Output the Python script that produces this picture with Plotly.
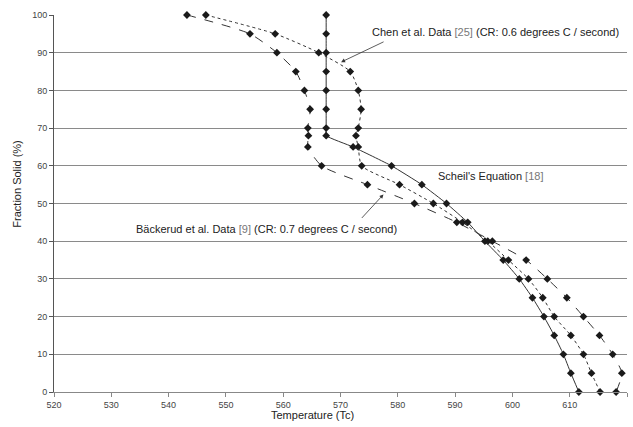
import plotly.graph_objects as go

# Fraction solid (%) levels for all three series
fraction = [100, 95, 90, 85, 80, 75, 70, 68, 65, 60, 55, 50, 45, 40, 35, 30, 25, 20, 15, 10, 5, 0]

# Scheil's Equation [18]
temp_scheil = [567.5, 567.5, 567.5, 567.5, 567.5, 567.5, 567.5, 567.5, 572.2, 578.9, 584.2,
               588.5, 592.2, 595.2, 598.4, 601.2, 603.5, 605.5, 607.3, 608.9, 610.2, 611.6]
# Chen et al. Data [25]
temp_chen = [546.5, 558.6, 566.2, 571.7, 573.1, 573.6, 573.1, 572.7, 573.1, 573.7, 580.3,
             586.2, 591.3, 595.7, 599.3, 602.8, 605.3, 607.3, 610.2, 612.4, 613.8, 615.3]
# Bäckerud et al. Data [9]
temp_back = [543.2, 554.2, 558.9, 562.2, 563.7, 564.7, 564.3, 564.4, 564.3, 566.7, 574.7,
             582.9, 590.3, 596.5, 602.4, 606.1, 609.5, 612.4, 615.2, 617.5, 619.1, 618.1]

x_ticks = [520, 530, 540, 550, 560, 570, 580, 590, 600, 610, 620]
y_ticks = [0, 10, 20, 30, 40, 50, 60, 70, 80, 90, 100]

FONT = "Liberation Sans, Arial, sans-serif"
mk = dict(symbol="diamond", size=6, color="#1a1a1a")

fig = go.Figure()
fig.add_trace(go.Scatter(x=temp_back, y=fraction, mode="lines+markers", cliponaxis=False,
                         line=dict(color="#333333", width=1, dash="dash", shape="spline", smoothing=0.6),
                         marker=mk, showlegend=False))
fig.add_trace(go.Scatter(x=temp_chen, y=fraction, mode="lines+markers", cliponaxis=False,
                         line=dict(color="#333333", width=1, dash="dot", shape="spline", smoothing=0.6),
                         marker=mk, showlegend=False))
fig.add_trace(go.Scatter(x=temp_scheil, y=fraction, mode="lines+markers", cliponaxis=False,
                         line=dict(color="#333333", width=1, shape="spline", smoothing=0.4),
                         marker=mk, showlegend=False))

anns = [
    dict(x=575.1, y=95.5, xref="x", yref="y", xanchor="left", yanchor="middle", showarrow=False,
         text='Chen et al. Data <span style="color:#777">[25]</span> (CR: 0.6 degrees C / second)'),
    dict(x=570.1, y=87.5, xref="x", yref="y", text="", showarrow=True, ax=44, ay=-21,
         arrowhead=2, arrowsize=1, arrowwidth=0.8, arrowcolor="#333"),
    dict(x=586.7, y=57.3, xref="x", yref="y", xanchor="left", yanchor="middle", showarrow=False,
         text='Scheil\'s Equation <span style="color:#777">[18]</span>'),
    dict(x=580.2, y=43.2, xref="x", yref="y", xanchor="right", yanchor="middle", showarrow=False,
         text='Bäckerud et al. Data <span style="color:#777">[9]</span> (CR: 0.7 degrees C / second)'),
    dict(x=577.5, y=52.4, xref="x", yref="y", text="", showarrow=True, ax=-23, ay=25,
         arrowhead=2, arrowsize=1, arrowwidth=0.8, arrowcolor="#333"),
    dict(x=0.452, y=0, xref="paper", yref="paper", yshift=-23, yanchor="middle", showarrow=False,
         text="Temperature (Tc)", font=dict(size=11, color="#222")),
    dict(x=0, y=0.55, xref="paper", yref="paper", xshift=-37, xanchor="center", yanchor="middle",
         showarrow=False, textangle=-90, text="Fraction Solid (%)", font=dict(size=11, color="#222")),
]
for a in anns:
    a.setdefault("font", dict(size=11, color="#222"))

fig.update_layout(
    width=633, height=427,
    margin=dict(l=54, r=6, t=15, b=35),
    paper_bgcolor="white", plot_bgcolor="white",
    font=dict(family=FONT, size=11, color="#222"),
    annotations=anns,
)
fig.update_xaxes(range=[520, 620], tickvals=x_ticks, showgrid=False, zeroline=False,
                 showline=True, linecolor="#888", linewidth=1,
                 ticks="outside", ticklen=4, tickcolor="#888",
                 tickfont=dict(size=9, color="#444"))
fig.update_yaxes(range=[0, 100], tickvals=y_ticks, showgrid=True, gridcolor="#8a8a8a", gridwidth=1,
                 zeroline=False, showline=True, linecolor="#555", linewidth=1,
                 ticks="outside", ticklen=4, tickcolor="#555",
                 tickfont=dict(size=9, color="#444"))

fig.write_html("out.html")
